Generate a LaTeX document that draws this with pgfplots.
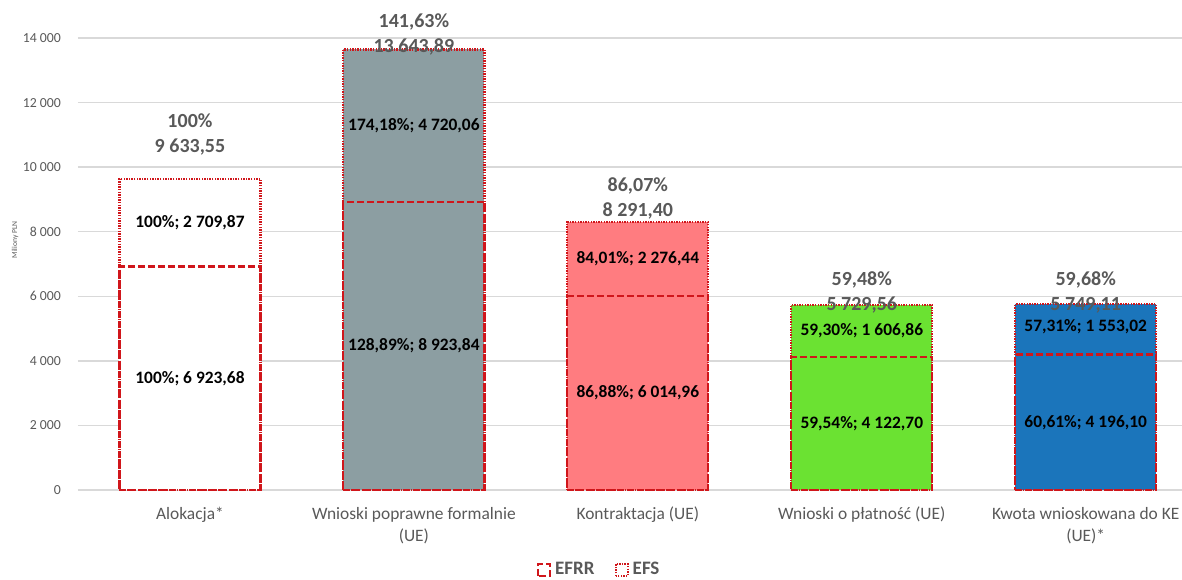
\documentclass[border=0pt]{standalone}
\usepackage{pgfplots}
\pgfplotsset{compat=1.18}
\usepackage{fontspec}
\setmainfont{Carlito}

\definecolor{txtgray}{HTML}{595959}
\definecolor{gridgray}{HTML}{D9D9D9}
\definecolor{efrred}{HTML}{D0161B}
\definecolor{c0}{HTML}{FFFFFF}
\definecolor{c1}{HTML}{8C9EA2}
\definecolor{c2}{HTML}{FF7C80}
\definecolor{c3}{HTML}{6BE232}
\definecolor{c4}{HTML}{1B75BB}

\tikzset{
  efrrline/.style={draw=efrred, line width=1.1pt, dash pattern=on 3.5pt off 1.5pt},
  efsline/.style={draw=efrred, line width=1.1pt, dash pattern=on 0.7pt off 0.6pt},
}
\pgfplotsset{
  mybar/.style={ybar, bar width=0.63, bar shift=0pt, forget plot},
}

\begin{document}
\begin{tikzpicture}
\begin{axis}[name=ax, scale only axis, width=552pt, height=226pt,
  xmin=-0.5, xmax=4.43, ymin=0, ymax=14000, clip=false,
  axis line style={draw=none}, major tick length=0pt,
  scaled y ticks=false,
  ymajorgrids, grid style={draw=gridgray, line width=0.7pt},
  ytick={0,2000,4000,6000,8000,10000,12000,14000},
  yticklabels={0,2 000,4 000,6 000,8 000,10 000,12 000,14 000},
  yticklabel style={font=\fontsize{6.9}{8}\selectfont, text=txtgray, xshift=-5pt},
  xtick={0,1,2,3,4},
  xticklabels={Alokacja*,{Wnioski poprawne formalnie\\(UE)},Kontraktacja (UE),Wnioski o płatność (UE),{Kwota wnioskowana do KE\\(UE)*}},
  xticklabel style={align=center, font=\fontsize{8.7}{11}\selectfont, text=txtgray, yshift=-5pt},
  ylabel={Miliony PLN},
  ylabel style={at={(axis description cs:-0.057,0.553)}, anchor=center, font=\fontsize{3.8}{4.5}\selectfont, text=txtgray},
  legend style={at={(0.473,-0.177)}, anchor=center, draw=none, fill=none, legend columns=2,
    font=\bfseries\fontsize{9.5}{11}\selectfont, text=txtgray,
    /tikz/every even column/.append style={column sep=8pt}},
]
% category colour = full bar (EFRR + EFS)
\addplot[mybar, fill=c0, draw=none] coordinates {(0,9633.55)};
\addplot[mybar, fill=c1, draw=none] coordinates {(1,13643.89)};
\addplot[mybar, fill=c2, draw=none] coordinates {(2,8291.40)};
\addplot[mybar, fill=c3, draw=none] coordinates {(3,5729.56)};
\addplot[mybar, fill=c4, draw=none] coordinates {(4,5749.11)};
% EFS outline (whole bar), EFRR outline (bottom part)
\addplot[mybar, fill=none, efsline] coordinates {(0,9633.55) (1,13643.89) (2,8291.40) (3,5729.56) (4,5749.11)};
\addplot[mybar, fill=none, efrrline] coordinates {(0,6923.68) (1,8923.84) (2,6014.96) (3,4122.70) (4,4196.10)};

\addlegendimage{legend image code/.code={\draw[efrrline] (0pt,-3pt) rectangle (6pt,3pt);}}
\addlegendentry{EFRR}
\addlegendimage{legend image code/.code={\draw[efsline] (0pt,-3pt) rectangle (6pt,3pt);}}
\addlegendentry{EFS}

% inner labels
\begin{scope}[every node/.style={font=\bfseries\fontsize{8.7}{10}\selectfont, text=black}]
\node at (axis cs:0,8278.6) {100\%; 2 709,87};
\node at (axis cs:0,3461.8) {100\%; 6 923,68};
\node at (axis cs:1,11284) {174,18\%; 4 720,06};
\node at (axis cs:1,4461.9) {128,89\%; 8 923,84};
\node at (axis cs:2,7153.2) {84,01\%; 2 276,44};
\node at (axis cs:2,3007.5) {86,88\%; 6 014,96};
\node at (axis cs:3,4926.1) {59,30\%; 1 606,86};
\node at (axis cs:3,2061.4) {59,54\%; 4 122,70};
\node at (axis cs:4,5050) {57,31\%; 1 553,02};
\node at (axis cs:4,2080) {60,61\%; 4 196,10};
\end{scope}
% totals
\begin{scope}[every node/.style={align=center, font=\bfseries\fontsize{10}{12.5}\selectfont, text=txtgray}]
\node at (axis cs:0,11010) {100\%\\9 633,55};
\node at (axis cs:1,14107) {141,63\%\\13 643,89};
\node at (axis cs:2,9043) {86,07\%\\8 291,40};
\node at (axis cs:3,6116) {59,48\%\\5 729,56};
\node at (axis cs:4,6116) {59,68\%\\5 749,11};
\end{scope}
\end{axis}
\pgfresetboundingbox
\path[use as bounding box] ([shift={(-39pt,-44.5pt)}]ax.south west) rectangle ([shift={(0pt,19pt)}]ax.north east);
\end{tikzpicture}
\end{document}
